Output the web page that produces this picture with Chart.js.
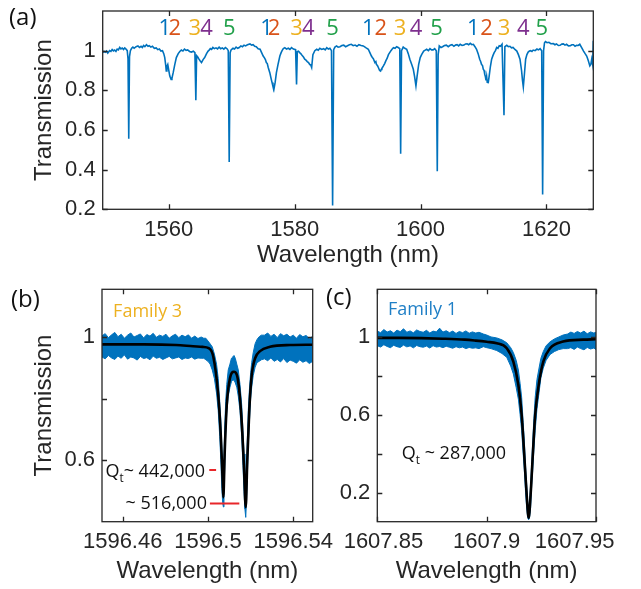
<!DOCTYPE html>
<html>
<head>
<meta charset="utf-8">
<script src="https://cdn.jsdelivr.net/npm/chart.js@4.4.1/dist/chart.umd.min.js"></script>
<style>
  body { margin: 0; background: #fff; width: 641px; height: 589px; position: relative; overflow: hidden; }
  canvas { position: absolute; }
  .tag { position: absolute; font-family: "Open Sans", sans-serif; font-size: 24px; line-height: 1; color: #111; }
</style>
</head>
<body>
<canvas id="chartA" width="641" height="280" style="left:0;top:0"></canvas>
<canvas id="chartB" width="345" height="309" style="left:0;top:280px"></canvas>
<canvas id="chartC" width="311" height="309" style="left:330px;top:280px"></canvas>
<div class="tag" style="left:9px;top:4px">(a)</div>
<div class="tag" style="left:11px;top:286px">(b)</div>
<div class="tag" style="left:326px;top:284px">(c)</div>
<script>
// ---- panel (a): broadband transmission ----
const aWave = [
  1549.5, 1549.7, 1549.9, 1550.1, 1550.3, 1550.6, 1550.8, 1551.0, 1551.2, 1551.4,
  1551.6, 1551.8, 1552.0, 1552.2, 1552.4, 1552.6, 1552.8, 1553.0, 1553.2, 1553.4,
  1553.52, 1553.64, 1553.76, 1553.9, 1554.1, 1554.3, 1554.5, 1554.8, 1555.1, 1555.35,
  1555.6, 1555.8, 1556.0, 1556.2, 1556.45, 1556.7, 1556.9, 1557.15, 1557.4, 1557.7,
  1558.0, 1558.25, 1558.5, 1558.75, 1559.0, 1559.2, 1559.36, 1559.5, 1559.6, 1559.7,
  1559.84, 1560.0, 1560.16, 1560.37, 1560.5, 1560.7, 1560.95, 1561.2, 1561.5, 1561.75,
  1562.0, 1562.25, 1562.5, 1562.75, 1563.0, 1563.3, 1563.6, 1563.9, 1564.15, 1564.3,
  1564.42, 1564.6, 1564.8, 1565.0, 1565.2, 1565.45, 1565.7, 1566.0, 1566.25, 1566.45,
  1566.6, 1566.8, 1567.0, 1567.25, 1567.5, 1567.75, 1568.0, 1568.25, 1568.5, 1568.75,
  1569.0, 1569.25, 1569.45, 1569.6, 1569.75, 1569.9, 1570.2, 1570.45, 1570.7, 1570.95,
  1571.2, 1571.45, 1571.7, 1571.95, 1572.2, 1572.5, 1572.9, 1573.15, 1573.4, 1573.65,
  1573.9, 1574.2, 1574.5, 1574.75, 1575.0, 1575.2, 1575.35, 1575.5, 1575.65, 1575.8,
  1576.05, 1576.25, 1576.4, 1576.55, 1576.7, 1576.9, 1577.1, 1577.35, 1577.65, 1577.85,
  1578.0, 1578.2, 1578.44, 1578.7, 1579.0, 1579.25, 1579.5, 1579.8, 1580.15, 1580.3,
  1580.42, 1580.6, 1580.8, 1581.0, 1581.2, 1581.4, 1581.6, 1581.8, 1582.0, 1582.2,
  1582.4, 1582.55, 1582.7, 1582.9, 1583.2, 1583.5, 1583.75, 1584.0, 1584.3, 1584.6,
  1584.85, 1585.1, 1585.35, 1585.6, 1585.85, 1586.03, 1586.2, 1586.4, 1586.66, 1586.9,
  1587.2, 1587.5, 1587.8, 1588.1, 1588.4, 1588.7, 1589.0, 1589.3, 1589.6, 1589.9,
  1590.2, 1590.55, 1590.9, 1591.3, 1591.7, 1591.95, 1592.2, 1592.35, 1592.5, 1592.75,
  1592.9, 1593.0, 1593.15, 1593.3, 1593.5, 1593.65, 1593.75, 1593.85, 1594.1, 1594.3,
  1594.5, 1594.7, 1594.9, 1595.1, 1595.3, 1595.5, 1595.7, 1595.95, 1596.2, 1596.45,
  1596.7, 1596.84, 1596.98, 1597.25, 1597.5, 1597.8, 1598.05, 1598.3, 1598.6, 1598.85,
  1599.05, 1599.27, 1599.45, 1599.7, 1599.95, 1600.17, 1600.5, 1600.75, 1600.97, 1601.25,
  1601.5, 1601.75, 1602.0, 1602.25, 1602.5, 1602.66, 1602.8, 1602.98, 1603.25, 1603.5,
  1603.8, 1604.1, 1604.4, 1604.7, 1605.0, 1605.3, 1605.55, 1605.8, 1606.05, 1606.3,
  1606.6, 1606.9, 1607.15, 1607.4, 1607.65, 1607.9, 1608.15, 1608.4, 1608.65, 1608.9,
  1609.15, 1609.4, 1609.55, 1609.7, 1609.85, 1609.97, 1610.1, 1610.2, 1610.3, 1610.4,
  1610.5, 1610.6, 1610.76, 1610.9, 1611.1, 1611.3, 1611.5, 1611.7, 1611.9, 1612.1,
  1612.3, 1612.5, 1612.7, 1612.95, 1613.26, 1613.4, 1613.7, 1613.95, 1614.2, 1614.45,
  1614.7, 1615.0, 1615.3, 1615.55, 1615.8, 1616.05, 1616.2, 1616.33, 1616.5, 1616.7,
  1616.9, 1617.1, 1617.3, 1617.5, 1617.7, 1617.9, 1618.2, 1618.5, 1618.75, 1619.0,
  1619.25, 1619.4, 1619.55, 1619.7, 1619.85, 1620.1, 1620.4, 1620.7, 1621.1, 1621.35,
  1621.6, 1621.9, 1622.16, 1622.45, 1622.7, 1622.95, 1623.2, 1623.5, 1623.8, 1624.05,
  1624.3, 1624.55, 1624.8, 1625.05, 1625.3, 1625.6, 1625.9, 1626.15, 1626.4, 1626.65,
  1626.9, 1627.05, 1627.2, 1627.35, 1627.45];
const aTrans = [
  0.99, 0.997, 0.992, 0.998, 0.988, 1.0, 0.996, 1.006, 0.999, 1.003,
  0.996, 1.008, 1.004, 1.016, 1.009, 1.013, 1.006, 1.014, 1.008, 1.0,
  0.96, 0.556, 0.97, 1.0, 1.012, 1.018, 1.012, 1.02, 1.024, 1.016,
  1.022, 1.016, 1.026, 1.02, 1.03, 1.022, 1.025, 1.018, 1.022, 1.012,
  1.014, 1.005, 1.008, 0.998, 1.0, 0.985, 0.965, 0.93, 0.898, 0.92,
  0.93, 0.9, 0.872, 0.855, 0.86, 0.889, 0.93, 0.965, 0.985, 0.996,
  1.003, 0.998, 1.008, 1.002, 1.004, 0.996, 0.993, 0.997, 0.99, 0.75,
  0.975, 0.968, 0.957, 0.948, 0.94, 0.955, 0.965, 0.985, 0.998, 1.004,
  1.01, 1.006, 1.016, 1.01, 1.014, 1.009, 1.018, 1.01, 1.014, 1.008,
  1.016, 1.01, 1.0, 0.438, 0.99, 1.004, 1.012, 1.008, 1.018, 1.012,
  1.016, 1.024, 1.02, 1.028, 1.024, 1.03, 1.034, 1.028, 1.03, 1.022,
  1.02, 1.01, 1.007, 0.99, 0.973, 0.964, 0.955, 0.94, 0.935, 0.915,
  0.889, 0.86, 0.84, 0.82, 0.805, 0.84, 0.889, 0.93, 0.973, 0.99,
  1.0, 1.01, 1.015, 1.008, 1.012, 1.006, 1.015, 1.008, 1.005, 0.83,
  0.995, 0.997, 0.99, 0.984, 0.975, 0.968, 0.957, 0.952, 0.945, 0.94,
  0.93, 0.928, 0.915, 0.98, 1.0, 1.007, 1.002, 1.012, 1.006, 1.01,
  1.004, 1.015, 1.008, 1.012, 1.0, 0.219, 1.005, 1.018, 1.024, 1.018,
  1.02, 1.026, 1.028, 1.02, 1.025, 1.03, 1.032, 1.025, 1.028, 1.022,
  1.03, 1.026, 1.024, 1.015, 1.007, 0.99, 0.973, 0.965, 0.96, 0.94,
  0.945, 0.93, 0.925, 0.915, 0.9, 0.897, 0.905, 0.91, 0.923, 0.935,
  0.95, 0.962, 0.98, 0.99, 1.0, 1.008, 1.015, 1.012, 1.02, 1.016,
  1.01, 0.48, 1.0, 1.018, 1.012, 1.007, 0.985, 0.957, 0.93, 0.906,
  0.87, 0.822, 0.87, 0.93, 0.965, 0.98, 0.998, 1.003, 1.007, 1.0,
  1.01, 1.004, 1.004, 1.01, 1.0, 0.392, 0.98, 1.024, 1.016, 1.02,
  1.026, 1.028, 1.02, 1.027, 1.03, 1.022, 1.028, 1.03, 1.024, 1.032,
  1.026, 1.028, 1.034, 1.035, 1.03, 1.037, 1.03, 1.032, 1.02, 1.007,
  0.985, 0.957, 0.945, 0.93, 0.925, 0.906, 0.9, 0.88, 0.87, 0.85,
  0.87, 0.84, 0.839, 0.87, 0.92, 0.957, 0.975, 0.99, 1.0, 1.016,
  1.012, 1.025, 1.022, 1.032, 0.674, 1.02, 1.027, 1.02, 1.022, 1.014,
  1.016, 1.006, 0.998, 0.98, 0.957, 0.9, 0.85, 0.817, 0.88, 0.957,
  0.98, 0.993, 0.998, 1.0, 0.996, 1.003, 1.0, 1.008, 1.004, 1.01,
  1.0, 0.275, 1.0, 1.04, 1.046, 1.04, 1.042, 1.035, 1.036, 1.03,
  1.034, 1.026, 1.027, 1.033, 1.034, 1.028, 1.032, 1.024, 1.025, 1.03,
  1.03, 1.022, 1.027, 1.026, 1.032, 1.015, 0.998, 0.985, 0.973, 0.95,
  0.923, 0.93, 0.957, 0.93, 1.05];
const famWave = [1559.36, 1560.95, 1564.13, 1566.0, 1569.6, 1575.53, 1576.74, 1580.3, 1582.15, 1586.03,
  1591.7, 1593.7, 1596.73, 1599.27, 1602.56, 1608.38, 1610.5, 1613.26, 1616.33, 1619.25];
const famNames = ['1', '2', '3', '4', '5'];
const famColors = ['#0072BD', '#D95319', '#EDB120', '#7E2F8E', '#21A04A'];
const aXTicks = [1560, 1580, 1600, 1620];
const aYTicks = [0.2, 0.4, 0.6, 0.8, 1];
const aYLabels = ['0.2', '0.4', '0.6', '0.8', '1'];

// ---- panel (b): family 3 doublet ----
const bBandWave = [1596.4503, 1596.4518, 1596.4533, 1596.4548, 1596.4563, 1596.4578, 1596.4593, 1596.4608, 1596.4623, 1596.4638,
  1596.4653, 1596.4668, 1596.4683, 1596.4698, 1596.4713, 1596.4728, 1596.4743, 1596.4758, 1596.4773, 1596.4788, 1596.4803,
  1596.4818, 1596.4833, 1596.4848, 1596.4863, 1596.4878, 1596.4893, 1596.4908, 1596.4923, 1596.4938, 1596.4953, 1596.4968,
  1596.498, 1596.499, 1596.5, 1596.501, 1596.502, 1596.503, 1596.504, 1596.5048, 1596.5055, 1596.506, 1596.5065, 1596.5069,
  1596.5072, 1596.5075, 1596.5078, 1596.5083, 1596.5088, 1596.5095, 1596.5103, 1596.511, 1596.5116, 1596.5122, 1596.5128,
  1596.5135, 1596.5142, 1596.515, 1596.5158, 1596.5164, 1596.5169, 1596.5173, 1596.5177, 1596.518, 1596.5184, 1596.5189,
  1596.5194, 1596.52, 1596.5205, 1596.5212, 1596.5221, 1596.523, 1596.524, 1596.525, 1596.5265, 1596.528, 1596.5295,
  1596.531, 1596.5325, 1596.534, 1596.5355, 1596.537, 1596.5385, 1596.54, 1596.5415, 1596.543, 1596.5445, 1596.546,
  1596.5475, 1596.5491];
const bUpper = [1.004, 1.011, 0.998, 1.007, 1.015, 1.001, 1.009, 0.996, 1.006, 1.013,
  1.0, 1.005, 1.01, 0.997, 1.008, 1.003, 1.012, 0.999, 1.006, 1.002, 1.009,
  0.996, 1.004, 1.009, 0.998, 1.006, 1.001, 1.007, 0.996, 1.003, 0.995, 1.0,
  0.996, 0.996, 0.987, 0.978, 0.968, 0.945, 0.912, 0.865, 0.79, 0.733, 0.639, 0.564,
  0.526, 0.602, 0.696, 0.79, 0.846, 0.893, 0.912, 0.931, 0.935, 0.94, 0.931,
  0.912, 0.893, 0.846, 0.78, 0.696, 0.62, 0.545, 0.489, 0.555, 0.658, 0.761,
  0.827, 0.884, 0.917, 0.949, 0.978, 0.992, 1.001, 1.006, 1.006, 1.013, 1.002,
  1.009, 0.998, 1.011, 1.004, 1.009, 1.0, 1.006, 0.996, 1.008, 1.001, 1.005,
  0.995, 1.002];
const bLower = [0.935, 0.929, 0.94, 0.932, 0.927, 0.938, 0.931, 0.942, 0.928, 0.935,
  0.932, 0.925, 0.937, 0.93, 0.933, 0.926, 0.938, 0.931, 0.934, 0.927, 0.932,
  0.937, 0.929, 0.932, 0.935, 0.927, 0.932, 0.93, 0.935, 0.928, 0.932, 0.931,
  0.931, 0.926, 0.921, 0.912, 0.893, 0.865, 0.818, 0.761, 0.677, 0.602, 0.508, 0.461,
  0.448, 0.489, 0.564, 0.686, 0.752, 0.808, 0.837, 0.855, 0.86, 0.86, 0.851,
  0.837, 0.808, 0.761, 0.677, 0.583, 0.498, 0.442, 0.414, 0.461, 0.536, 0.649,
  0.724, 0.799, 0.837, 0.874, 0.902, 0.917, 0.921, 0.926, 0.929, 0.923, 0.932,
  0.921, 0.927, 0.919, 0.93, 0.917, 0.925, 0.921, 0.915, 0.926, 0.918, 0.923,
  0.914, 0.921];
const bFitWave = [1596.4503, 1596.47, 1596.485, 1596.493, 1596.4975, 1596.5003, 1596.5025, 1596.5048, 1596.506, 1596.5069,
  1596.5072, 1596.5078, 1596.5088, 1596.5103, 1596.5122, 1596.5142, 1596.5158, 1596.5169, 1596.5177, 1596.5184,
  1596.5194, 1596.5205, 1596.5221, 1596.5244, 1596.5291, 1596.5385, 1596.5491];
const bFitT = [0.976, 0.976, 0.974, 0.97, 0.968, 0.964, 0.936, 0.811, 0.681, 0.529,
  0.479, 0.617, 0.779, 0.866, 0.887, 0.854, 0.725, 0.573, 0.447, 0.594,
  0.768, 0.876, 0.931, 0.954, 0.968, 0.974, 0.975];
const bMarkWaveA = [1596.5006, 1596.5038];
const bMarkTA = [0.568, 0.568];
const bMarkWaveB = [1596.5009, 1596.5147];
const bMarkTB = [0.459, 0.459];
const bXTicks = [1596.46, 1596.5, 1596.54];
const bXLabels = ['1596.46', '1596.5', '1596.54'];
const bYTicks = [0.6, 0.8, 1];
const bYLabels = ['0.6', '', '1'];

// ---- panel (c): family 1 singlet ----
const cBandWave = [1607.85, 1607.8515, 1607.853, 1607.8545, 1607.856, 1607.8575, 1607.859, 1607.8605, 1607.862, 1607.8635,
  1607.865, 1607.8665, 1607.868, 1607.8695, 1607.871, 1607.8725, 1607.874, 1607.8755, 1607.877, 1607.8785, 1607.88,
  1607.8815, 1607.883, 1607.8845, 1607.886, 1607.8875, 1607.889, 1607.8905, 1607.892, 1607.8935, 1607.895, 1607.8965,
  1607.8985, 1607.9, 1607.902, 1607.9046, 1607.907, 1607.9092, 1607.911, 1607.9122, 1607.9135, 1607.9145, 1607.9153,
  1607.916, 1607.9167, 1607.9172, 1607.9178, 1607.9183, 1607.9188, 1607.9192, 1607.9196, 1607.9201, 1607.9206, 1607.9211,
  1607.9216, 1607.9222, 1607.923, 1607.9238, 1607.9248, 1607.9259, 1607.9272, 1607.929, 1607.931, 1607.933, 1607.935,
  1607.937, 1607.9385, 1607.94, 1607.9415, 1607.943, 1607.9445, 1607.946, 1607.9475, 1607.949, 1607.95];
const cUpper = [1.03, 1.022, 1.038, 1.025, 1.032, 1.02, 1.035, 1.027, 1.042, 1.024,
  1.031, 1.021, 1.036, 1.028, 1.024, 1.034, 1.02, 1.03, 1.026, 1.045, 1.025,
  1.032, 1.022, 1.03, 1.018, 1.028, 1.022, 1.031, 1.019, 1.026, 1.02, 1.024,
  1.015, 1.01, 1.0, 0.995, 0.985, 0.97, 0.945, 0.92, 0.88, 0.83, 0.76,
  0.69, 0.56, 0.47, 0.33, 0.24, 0.15, 0.1, 0.15, 0.24, 0.35, 0.47,
  0.58, 0.69, 0.78, 0.83, 0.89, 0.925, 0.955, 0.975, 0.99, 1.0, 1.01,
  1.015, 1.025, 1.018, 1.028, 1.02, 1.03, 1.016, 1.026, 1.02, 1.024];
const cLower = [0.955, 0.948, 0.96, 0.951, 0.945, 0.957, 0.95, 0.946, 0.958, 0.949,
  0.954, 0.944, 0.956, 0.95, 0.947, 0.953, 0.943, 0.955, 0.948, 0.951, 0.945,
  0.952, 0.947, 0.942, 0.95, 0.944, 0.948, 0.94, 0.946, 0.942, 0.944, 0.94,
  0.95, 0.945, 0.94, 0.93, 0.915, 0.895, 0.85, 0.81, 0.74, 0.68, 0.6,
  0.52, 0.4, 0.32, 0.2, 0.12, 0.07, 0.06, 0.07, 0.12, 0.24, 0.32,
  0.42, 0.52, 0.63, 0.7, 0.79, 0.84, 0.88, 0.91, 0.925, 0.935, 0.94,
  0.94, 0.945, 0.936, 0.948, 0.94, 0.934, 0.946, 0.938, 0.943, 0.935];
const cFitWave = [1607.85, 1607.86, 1607.87, 1607.88, 1607.89, 1607.895, 1607.9, 1607.9046, 1607.9092, 1607.9122,
  1607.9145, 1607.916, 1607.9172, 1607.9183, 1607.9192, 1607.9201, 1607.9211, 1607.9222, 1607.9238, 1607.9259,
  1607.929, 1607.935, 1607.9442, 1607.95];
const cFitT = [0.995, 0.995, 0.994, 0.991, 0.986, 0.981, 0.975, 0.968, 0.942, 0.873,
  0.753, 0.6, 0.393, 0.188, 0.07, 0.188, 0.393, 0.6, 0.753, 0.873,
  0.942, 0.976, 0.986, 0.988];
const cXTicks = [1607.85, 1607.9, 1607.95];
// the edge labels are pulled inwards in the reference
const cXLabels = ['  1607.85', '1607.9', '1607.95       '];
const cYTicks = [0.2, 0.4, 0.6, 0.8, 1];
const cYLabels = ['0.2', '', '0.6', '', '1'];

const BLUE = '#0072BD';
const INK = '#262626';
const TICK_FONT = { family: "'Liberation Sans', Arial, sans-serif", size: 22 };
const TITLE_FONT = { family: "'Liberation Sans', Arial, sans-serif", size: 24 };
const NOTE_FONT = "'Open Sans', sans-serif";

const pts = (xs, ys) => xs.map((x, i) => ({ x: x, y: ys[i] }));

// box, inward ticks on all four sides, and text notes in data coordinates
const framePlugin = {
  id: 'frame',
  afterDraw(chart, args, opts) {
    const { ctx, chartArea: a, scales: { x, y } } = chart;
    ctx.save();
    ctx.strokeStyle = INK;
    ctx.lineWidth = 1.3;
    ctx.strokeRect(a.left, a.top, a.right - a.left, a.bottom - a.top);
    const len = 5;
    ctx.beginPath();
    x.ticks.forEach(t => {
      const p = Math.round(x.getPixelForValue(t.value)) + 0.5;
      ctx.moveTo(p, a.bottom); ctx.lineTo(p, a.bottom - len);
      ctx.moveTo(p, a.top); ctx.lineTo(p, a.top + len);
    });
    y.ticks.forEach(t => {
      const p = Math.round(y.getPixelForValue(t.value)) + 0.5;
      ctx.moveTo(a.left, p); ctx.lineTo(a.left + len, p);
      ctx.moveTo(a.right, p); ctx.lineTo(a.right - len, p);
    });
    ctx.stroke();
    (opts.notes || []).forEach(n => {
      const px = x.getPixelForValue(n.x);
      const py = y.getPixelForValue(n.y);
      ctx.fillStyle = n.color || '#111';
      ctx.textBaseline = 'middle';
      ctx.textAlign = 'left';
      const parts = n.parts.map(p => {
        const size = p.sub ? n.size * 0.65 : n.size;
        ctx.font = size + 'px ' + NOTE_FONT;
        return { text: p.text, size: size, dy: p.sub ? n.size * 0.35 : 0, w: ctx.measureText(p.text).width };
      });
      const total = parts.reduce((s, p) => s + p.w, 0);
      let cx = n.align === 'right' ? px - total : n.align === 'center' ? px - total / 2 : px;
      parts.forEach(p => {
        ctx.font = p.size + 'px ' + NOTE_FONT;
        ctx.fillText(p.text, cx, py + p.dy);
        cx += p.w;
      });
    });
    ctx.restore();
  }
};

function axes(cfg) {
  return {
    x: {
      type: 'linear', min: cfg.xMin, max: cfg.xMax,
      grid: { display: false, drawTicks: false }, border: { display: false },
      afterBuildTicks: s => { s.ticks = cfg.xTicks.map(v => ({ value: v })); },
      // fixed height, and let edge labels overhang instead of shrinking the plot
      afterFit: s => { s.height = cfg.xHeight; s.paddingLeft = 0; s.paddingRight = 0; },
      ticks: { font: TICK_FONT, color: INK, padding: cfg.xPad, autoSkip: false, maxRotation: 0, minRotation: 0,
        callback: (v, i) => cfg.xLabels[i] },
      title: { display: true, text: 'Wavelength (nm)', font: TITLE_FONT, color: INK, padding: { bottom: cfg.xTitlePad } }
    },
    y: {
      type: 'linear', min: cfg.yMin, max: cfg.yMax,
      grid: { display: false, drawTicks: false }, border: { display: false },
      afterBuildTicks: s => { s.ticks = cfg.yTicks.map(v => ({ value: v })); },
      afterFit: s => { s.width = cfg.yWidth; s.paddingTop = 0; s.paddingBottom = 0; },
      ticks: { font: TICK_FONT, color: INK, padding: 7, callback: (v, i) => cfg.yLabels[i] },
      title: { display: cfg.yTitle, text: 'Transmission', font: TITLE_FONT, color: INK, padding: { top: cfg.yTitlePad } }
    }
  };
}

const base = {
  responsive: false,
  animation: false,
  events: [],
  plugins: { legend: { display: false }, tooltip: { enabled: false } },
  elements: { point: { radius: 0 }, line: { tension: 0 } }
};

// (a)
const famNotes = famWave.map((w, i) => ({
  x: w, y: 1.113, size: 22, align: 'center', color: famColors[i % 5], parts: [{ text: famNames[i % 5] }]
}));
new Chart(document.getElementById('chartA'), {
  type: 'line',
  data: { datasets: [{ data: pts(aWave, aTrans), borderColor: BLUE, borderWidth: 1.6 }] },
  options: Object.assign({}, base, {
    layout: { padding: { left: 0, right: 47.7, top: 11, bottom: 0 } },
    scales: axes({ xMin: 1549.5, xMax: 1627.45, xTicks: aXTicks, xLabels: aXTicks.map(String), xHeight: 70.7, xPad: 7, xTitlePad: 10,
      yMin: 0.2, yMax: 1.2, yTicks: aYTicks, yLabels: aYLabels, yWidth: 102.7, yTitle: true, yTitlePad: 30 }),
    plugins: Object.assign({}, base.plugins, { frame: { notes: famNotes } })
  }),
  plugins: [framePlugin]
});

// (b)
new Chart(document.getElementById('chartB'), {
  type: 'line',
  data: { datasets: [
    { data: pts(bFitWave, bFitT), borderColor: '#000', borderWidth: 2.6, cubicInterpolationMode: 'monotone', order: 0 },
    { data: pts(bBandWave, bUpper), borderColor: BLUE, borderWidth: 1, fill: false, order: 2 },
    { data: pts(bBandWave, bLower), borderColor: BLUE, borderWidth: 1, fill: '-1', backgroundColor: BLUE, order: 2 },
    { data: pts(bMarkWaveA, bMarkTA), borderColor: '#E8262A', borderWidth: 2, order: 1 },
    { data: pts(bMarkWaveB, bMarkTB), borderColor: '#E8262A', borderWidth: 2, order: 1 }
  ] },
  options: Object.assign({}, base, {
    layout: { padding: { left: 0, right: 32.3, top: 9.3, bottom: 0 } },
    scales: axes({ xMin: 1596.4503, xMax: 1596.5491, xTicks: bXTicks, xLabels: bXLabels, xHeight: 67.3, xPad: 7, xTitlePad: 3,
      yMin: 0.4, yMax: 1.155, yTicks: bYTicks, yLabels: bYLabels, yWidth: 102, yTitle: true, yTitlePad: 30 }),
    plugins: Object.assign({}, base.plugins, { frame: { notes: [
      { x: 1596.4555, y: 1.083, size: 18, align: 'left', color: '#EDB120', parts: [{ text: 'Family 3' }] },
      { x: 1596.4986, y: 0.561, size: 18, align: 'right', parts: [{ text: 'Q' }, { text: 't', sub: true }, { text: '~ 442,000' }] },
      { x: 1596.4995, y: 0.459, size: 18, align: 'right', parts: [{ text: '~ 516,000' }] }
    ] } })
  }),
  plugins: [framePlugin]
});

// (c)
new Chart(document.getElementById('chartC'), {
  type: 'line',
  data: { datasets: [
    { data: pts(cFitWave, cFitT), borderColor: '#000', borderWidth: 2.6, cubicInterpolationMode: 'monotone', order: 0 },
    { data: pts(cBandWave, cUpper), borderColor: BLUE, borderWidth: 1, fill: false, order: 2 },
    { data: pts(cBandWave, cLower), borderColor: BLUE, borderWidth: 1, fill: '-1', backgroundColor: BLUE, order: 2 }
  ] },
  options: Object.assign({}, base, {
    layout: { padding: { left: 0, right: 45, top: 9.3, bottom: 0 } },
    scales: axes({ xMin: 1607.85, xMax: 1607.95, xTicks: cXTicks, xLabels: cXLabels, xHeight: 67.3, xPad: 7, xTitlePad: 3,
      yMin: 0.05, yMax: 1.245, yTicks: cYTicks, yLabels: cYLabels, yWidth: 47.3, yTitle: false, yTitlePad: 0 }),
    plugins: Object.assign({}, base.plugins, { frame: { notes: [
      { x: 1607.8549, y: 1.139, size: 18, align: 'left', color: '#1F7FC6', parts: [{ text: 'Family 1' }] },
      { x: 1607.8612, y: 0.397, size: 18, align: 'left', parts: [{ text: 'Q' }, { text: 't', sub: true }, { text: ' ~ 287,000' }] }
    ] } })
  }),
  plugins: [framePlugin]
});
</script>
</body>
</html>
